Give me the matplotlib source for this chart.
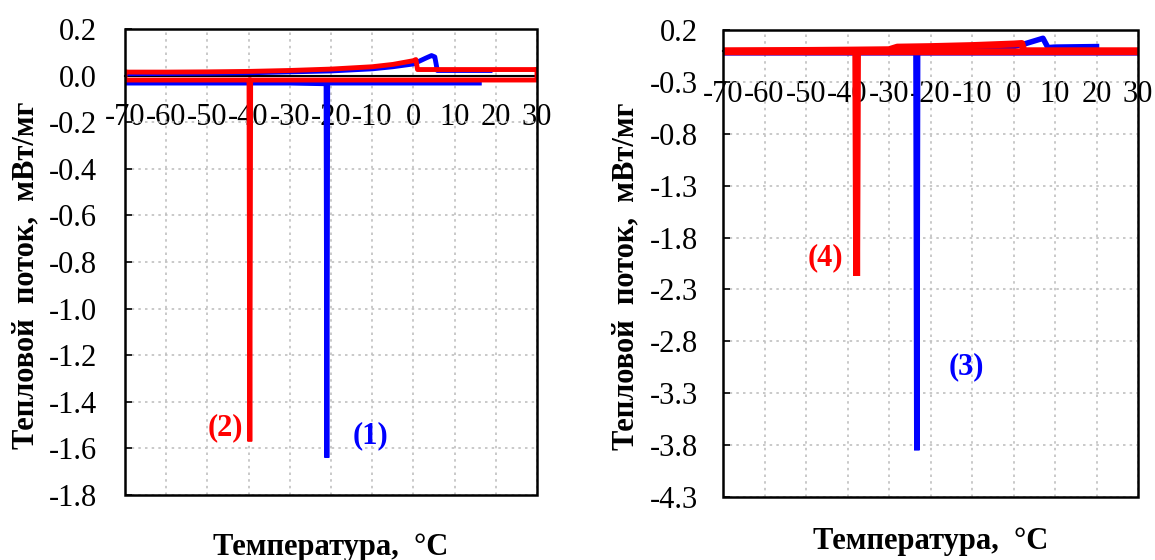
import matplotlib
matplotlib.use("Agg")
import matplotlib.pyplot as plt
import numpy as np
from matplotlib.patches import Rectangle

plt.rcParams['font.family'] = ['Liberation Serif', 'DejaVu Serif']

# ---------------- data ----------------
x_ticks = [-70, -60, -50, -40, -30, -20, -10, 0, 10, 20, 30]
left_yticks = [0.2, 0.0, -0.2, -0.4, -0.6, -0.8, -1.0, -1.2, -1.4, -1.6, -1.8]
right_yticks = [0.2, -0.3, -0.8, -1.3, -1.8, -2.3, -2.8, -3.3, -3.8, -4.3]

# Left panel, curve (1) blue
c1_cool_T = [16, 10, 0, -10, -20.8, -21.0, -21.2, -30, -40, -50, -60, -70]
c1_cool_Q = [-0.032, -0.032, -0.032, -0.032, -0.032, -1.64, -0.035, -0.032, -0.032, -0.032, -0.032, -0.032]
c1_heat_T = [-70, -60, -50, -40, -30, -20, -10, -5, 0, 3, 4.4, 5.2, 5.8, 10, 18.6]
c1_heat_Q = [0.008, 0.009, 0.01, 0.012, 0.016, 0.02, 0.029, 0.038, 0.05, 0.075, 0.086, 0.08, 0.022, 0.022, 0.022]

# Left panel, curve (2) red
c2_heat_T = [-70, -60, -50, -40, -30, -20, -10, -5, 0, 0.6, 1.0, 10, 20, 30]
c2_heat_Q = [0.015, 0.015, 0.016, 0.018, 0.022, 0.028, 0.038, 0.048, 0.064, 0.069, 0.026, 0.026, 0.026, 0.026]
c2_cool_T = [30, 30, 20, 10, 0, -10, -20, -30, -39.5, -39.7, -39.9, -50, -60, -70, -70]
c2_cool_Q = [0.026, -0.019, -0.019, -0.019, -0.019, -0.019, -0.019, -0.019, -0.019, -1.57, -0.019, -0.019, -0.019, -0.019, 0.015]

# Right panel, curve (3) blue
c3_cool_T = [30, 20, 10, 0, -10, -20, -23.1, -23.3, -23.5, -30, -40, -50, -60, -70]
c3_cool_Q = [-0.02, -0.02, -0.02, -0.02, -0.02, -0.02, -0.02, -3.85, -0.02, -0.02, -0.02, -0.02, -0.02, -0.02]
c3_heat_T = [-70, -50, -30, -20, -10, 0, 3, 7.1, 8.3, 10, 20]
c3_heat_Q = [-0.01, -0.005, 0.0, 0.01, 0.02, 0.04, 0.07, 0.12, 0.03, 0.035, 0.04]

# Right panel, curve (4) red
c4_cool_T = [30, 20, 10, 0, -10, -20, -30, -37.6, -37.8, -38.0, -50, -60, -70]
c4_cool_Q = [-0.01, -0.01, -0.01, -0.01, -0.01, -0.01, -0.01, -0.01, -2.17, -0.01, -0.01, -0.01, -0.01]
c4_heat_T = [-70, -50, -40, -30, -28, -20, -10, 0, 2.0, 2.5, 10, 20, 30]
c4_heat_Q = [0.0, 0.003, 0.006, 0.01, 0.035, 0.04, 0.05, 0.065, 0.07, 0.0, 0.0, 0.0, 0.0]

ylabel = "Тепловой  поток,  мВт/мг"
xlabel = "Температура,  °С"

BLUE = "#0000ff"
RED = "#ff0000"

fig = plt.figure(figsize=(11.55, 5.6), dpi=100)
axL = fig.add_axes([125/1155, 65/560, 412/1155, 466/560])
axR = fig.add_axes([723/1155, 63/560, 415/1155, 467/560])


def style(ax, yticks, ylim, ypad, xpad, xlab_y):
    ax.set_xlim(-70, 30)
    ax.set_ylim(*ylim)
    ax.set_xticks(x_ticks)
    ax.set_xticklabels([str(v) for v in x_ticks])
    ax.set_yticks(yticks)
    ax.set_yticklabels([f"{v:.1f}" for v in yticks])
    ax.grid(True, color="#c0c0c0", linestyle=(0, (1.5, 2.5)), linewidth=1.2)
    ax.set_axisbelow(True)
    for s in ['top', 'right', 'left']:
        ax.spines[s].set_visible(False)
    ax.spines['bottom'].set_position(('data', 0))
    ax.spines['bottom'].set_linewidth(1.5)
    ax.spines['bottom'].set_zorder(1.5)
    ax.add_patch(Rectangle((0, 0), 1, 1, transform=ax.transAxes, fill=False,
                           edgecolor='black', linewidth=1.8, zorder=5, clip_on=False))
    ax.tick_params(axis='y', direction='in', length=5, width=1.2, pad=ypad,
                   labelsize=22, left=True)
    ax.tick_params(axis='x', direction='in', length=0, pad=xpad, labelsize=22)
    ax.set_ylabel(ylabel, fontsize=22, fontweight='bold')
    ax.text(0.5, xlab_y, xlabel, transform=ax.transAxes,
            ha='center', va='center', fontsize=22, fontweight='bold')


style(axL, left_yticks, (-1.8, 0.2), 20, 20, -0.112)
style(axR, right_yticks, (-4.3, 0.2), 18, 21, -0.096)
axL.yaxis.set_label_coords(-0.206, 0.472)
axR.yaxis.set_label_coords(-0.198, 0.472)

axL.plot(c1_cool_T, c1_cool_Q, color=BLUE, lw=3.5, solid_joinstyle='miter', zorder=3)
axL.plot(c1_heat_T, c1_heat_Q, color=BLUE, lw=3.5, zorder=3)
axL.plot(c2_heat_T, c2_heat_Q, color=RED, lw=3.5, zorder=4)
axL.plot(c2_cool_T, c2_cool_Q, color=RED, lw=3.5, solid_joinstyle='miter', zorder=4)

axR.plot(c3_cool_T, c3_cool_Q, color=BLUE, lw=4, solid_joinstyle='miter', zorder=3)
axR.plot(c3_heat_T, c3_heat_Q, color=BLUE, lw=4, zorder=3)
axR.plot(c4_cool_T, c4_cool_Q, color=RED, lw=5, solid_joinstyle='miter', zorder=4)
axR.plot(c4_heat_T, c4_heat_Q, color=RED, lw=5, zorder=4)

lab_kw = dict(fontsize=22, fontweight='bold', ha='center', va='center')
axL.text(-45.7, -1.51, "(2)", color=RED, **lab_kw)
axL.text(-10.5, -1.545, "(1)", color=BLUE, **lab_kw)
axR.text(-45.2, -1.99, "(4)", color=RED, **lab_kw)
axR.text(-11.4, -3.04, "(3)", color=BLUE, **lab_kw)

fig.savefig("out.png", dpi=100)
